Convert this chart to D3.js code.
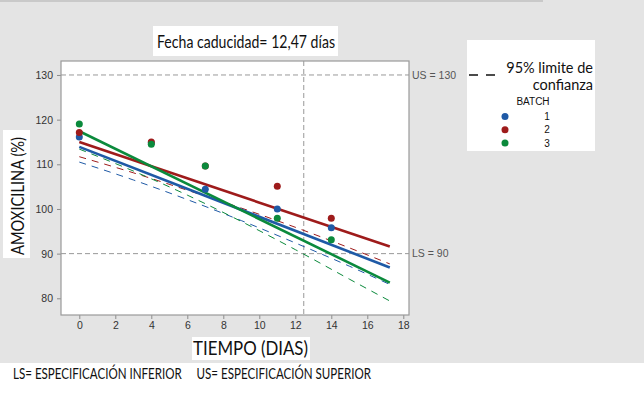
<!DOCTYPE html>
<html>
<head>
<meta charset="utf-8">
<script src="https://cdn.jsdelivr.net/npm/d3@7"></script>
<style>
  body { margin: 0; background: #fff; }
  svg { display: block; }
</style>
</head>
<body>
<svg id="chart" width="644" height="396"></svg>
<script>
// stability study data
var times = [0, 4, 7, 11, 14]
var batchNames = ['1', '2', '3']
var batch1 = [116.1, 114.8, 104.4, 100.0, 95.8]
var batch2 = [117.1, 115.0, 109.6, 105.1, 97.9]
var batch3 = [119.0, 114.5, 109.6, 97.9, 93.1]

// fitted regression lines, start and end values
var fitTimes = [0, 17.25]
var fit1 = [113.9, 86.9]
var fit2 = [115.0, 91.6]
var fit3 = [117.4, 83.5]

// lower 95% confidence bounds
var ciTimes = [0, 3, 6, 9, 12, 15, 17.25]
var lower1 = [110.5, 106.5, 102.1, 97.4, 92.4, 87.2, 83.1]
var lower2 = [111.7, 108.1, 104.2, 100.2, 95.9, 91.3, 87.7]
var lower3 = [113.4, 108.5, 103.1, 97.2, 90.9, 84.3, 79.4]

var xTicks = [0, 2, 4, 6, 8, 10, 12, 14, 16, 18]
var yTicks = [80, 90, 100, 110, 120, 130]
var specValues = [130, 90]
var specLabels = ['US = 130', 'LS = 90']
var shelfLife = 12.47

var colors = ['#1f5aa6', '#9e1b1b', '#0b8a3c']
var humanist = 'Lato, "Open Sans", sans-serif'
var small = '"Liberation Sans", Arial, sans-serif'

var svg = d3.select('#chart')

// page background
svg.append('rect').attr('width', 644).attr('height', 396).style('fill', '#e4e4e4')
svg.append('rect').attr('x', 0).attr('y', 363).attr('width', 644).attr('height', 33).style('fill', '#fff')
svg.append('rect').attr('x', 0).attr('y', 0).attr('width', 543).attr('height', 2).style('fill', '#c9c9c9')

var x = d3.scaleLinear().domain([-1.017, 18.317]).range([61, 409])
var y = d3.scaleLinear().domain([76.26, 133.13]).range([315, 61])

// plot area
svg.append('rect')
   .attr('x', x.range()[0])
   .attr('y', y.range()[1])
   .attr('width', x.range()[1] - x.range()[0])
   .attr('height', y.range()[0] - y.range()[1])
   .style('fill', '#fff')

// axes
var yAxis = svg.append('g')
               .attr('transform', 'translate(' + x.range()[0] + ',0)')
               .call(d3.axisLeft(y).tickValues(yTicks).tickSize(4).tickPadding(4))
var xAxis = svg.append('g')
               .attr('transform', 'translate(0,' + y.range()[0] + ')')
               .call(d3.axisBottom(x).tickValues(xTicks).tickSize(4).tickPadding(3))

;[xAxis, yAxis].forEach(function (ax) {
  ax.select('.domain').remove()
  ax.selectAll('line').style('stroke', '#8c8c8c')
  ax.selectAll('text').style('font-family', small).style('font-size', '10.5px').style('fill', '#333')
})

// spec limits and shelf life
specValues.forEach(function (v, i) {
  svg.append('line')
     .attr('x1', x.range()[0]).attr('x2', x.range()[1])
     .attr('y1', y(v)).attr('y2', y(v))
     .style('stroke', '#999').style('stroke-dasharray', '5,3')
  svg.append('text')
     .attr('x', x.range()[1] + 3)
     .attr('y', y(v))
     .attr('dy', '0.35em')
     .style('font-family', small).style('font-size', '10.5px').style('fill', '#555')
     .text(specLabels[i])
})
svg.append('line')
   .attr('x1', x(shelfLife)).attr('x2', x(shelfLife))
   .attr('y1', y.range()[1]).attr('y2', y.range()[0])
   .style('stroke', '#999').style('stroke-dasharray', '5,3')

var line = d3.line().x(function (d) { return x(d[0]) }).y(function (d) { return y(d[1]) })
var curve = d3.line().x(function (d) { return x(d[0]) }).y(function (d) { return y(d[1]) }).curve(d3.curveMonotoneX)

var fits = [fit1, fit2, fit3]
var lowers = [lower1, lower2, lower3]
var series = [batch1, batch2, batch3]

lowers.forEach(function (vals, i) {
  svg.append('path')
     .attr('d', curve(ciTimes.map(function (t, j) { return [t, vals[j]] })))
     .style('fill', 'none').style('stroke', colors[i]).style('stroke-width', 1)
     .style('stroke-dasharray', '7,6')
})

fits.forEach(function (vals, i) {
  svg.append('path')
     .attr('d', line(fitTimes.map(function (t, j) { return [t, vals[j]] })))
     .style('fill', 'none').style('stroke', colors[i]).style('stroke-width', 2.6)
})

series.forEach(function (vals, i) {
  svg.selectAll(null)
     .data(times.map(function (t, j) { return [t, vals[j]] }))
     .enter().append('circle')
     .attr('cx', function (d) { return x(d[0]) })
     .attr('cy', function (d) { return y(d[1]) })
     .attr('r', 3.5)
     .style('fill', colors[i])
})

// frame
svg.append('rect')
   .attr('x', x.range()[0])
   .attr('y', y.range()[1])
   .attr('width', x.range()[1] - x.range()[0])
   .attr('height', y.range()[0] - y.range()[1])
   .style('fill', 'none').style('stroke', '#9a9a9a').style('stroke-width', 1.2)

// title
svg.append('rect').attr('x', 153).attr('y', 26).attr('width', 185).attr('height', 30).style('fill', '#fff')
svg.append('text')
   .attr('x', 157).attr('y', 48)
   .attr('textLength', 178).attr('lengthAdjust', 'spacingAndGlyphs')
   .style('font-family', humanist).style('font-size', '18px').style('fill', '#111')
   .text('Fecha caducidad= 12,47 días')

// axis titles
svg.append('rect').attr('x', 3).attr('y', 130).attr('width', 27).attr('height', 128).style('fill', '#fff')
svg.append('text')
   .attr('transform', 'translate(24,196) rotate(-90)')
   .attr('text-anchor', 'middle')
   .attr('textLength', 118).attr('lengthAdjust', 'spacingAndGlyphs')
   .style('font-family', humanist).style('font-size', '18px').style('fill', '#111')
   .text('AMOXICILINA (%)')

svg.append('rect').attr('x', 192).attr('y', 337).attr('width', 118).attr('height', 23).style('fill', '#fff')
svg.append('text')
   .attr('x', 193).attr('y', 355)
   .attr('textLength', 115).attr('lengthAdjust', 'spacingAndGlyphs')
   .style('font-family', humanist).style('font-size', '19px').style('fill', '#111')
   .text('TIEMPO (DIAS)')

svg.append('text')
   .attr('x', 13).attr('y', 379)
   .attr('textLength', 358).attr('lengthAdjust', 'spacingAndGlyphs')
   .style('font-family', humanist).style('font-size', '15px').style('fill', '#111')
   .style('white-space', 'pre')
   .text('LS= ESPECIFICACIÓN INFERIOR     US= ESPECIFICACIÓN SUPERIOR')

// legend
var legend = svg.append('g').attr('id', 'legend')
legend.append('rect').attr('x', 467).attr('y', 40).attr('width', 128).attr('height', 111).style('fill', '#fff')
legend.append('line')
      .attr('x1', 469).attr('x2', 495).attr('y1', 75).attr('y2', 75)
      .style('stroke', '#111').style('stroke-width', 1.3).style('stroke-dasharray', '9,8')
legend.append('text')
      .attr('x', 593).attr('y', 72.5).attr('text-anchor', 'end')
      .style('font-family', humanist).style('font-size', '14.5px').style('fill', '#111')
      .text('95% limite de')
legend.append('text')
      .attr('x', 593).attr('y', 90).attr('text-anchor', 'end')
      .style('font-family', humanist).style('font-size', '14.5px').style('fill', '#111')
      .text('confianza')
legend.append('text')
      .attr('x', 533).attr('y', 105).attr('text-anchor', 'middle')
      .style('font-family', small).style('font-size', '10px').style('fill', '#111')
      .text('BATCH')

batchNames.forEach(function (name, i) {
  var top = 116.5 + i * 13.3
  legend.append('circle').attr('cx', 505).attr('cy', top).attr('r', 3.5).style('fill', colors[i])
  legend.append('text')
        .attr('x', 547).attr('y', top).attr('dy', '0.35em').attr('text-anchor', 'middle')
        .style('font-family', small).style('font-size', '10px').style('fill', '#111')
        .text(name)
})
</script>
</body>
</html>
